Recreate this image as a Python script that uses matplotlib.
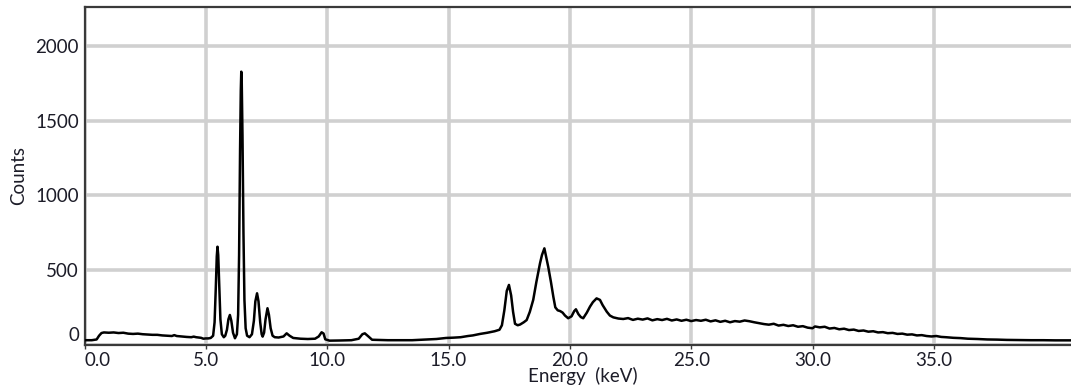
import matplotlib
matplotlib.use("Agg")
import matplotlib.pyplot as plt
import matplotlib.transforms as mtransforms

# ---- data ----
energy_kev = [
    0.0, 0.3, 0.5, 0.6, 0.7, 0.8, 1.0, 1.2, 1.4, 1.6, 1.8, 2.0, 2.2, 2.4, 2.6, 2.8,
    3.0, 3.2, 3.4, 3.6, 3.7, 3.8, 4.0, 4.2, 4.4, 4.5, 4.6, 4.8, 4.9, 5.0, 5.1, 5.2,
    5.3, 5.36, 5.41, 5.45, 5.48, 5.51, 5.55, 5.60, 5.66, 5.74,
    5.80, 5.87, 5.93, 5.99, 6.05, 6.12, 6.2,
    6.28, 6.33, 6.37, 6.41, 6.44, 6.46, 6.48, 6.51, 6.55, 6.59, 6.64, 6.70, 6.8,
    6.9, 6.98, 7.04, 7.11, 7.17, 7.24, 7.30, 7.34,
    7.40, 7.46, 7.54, 7.60, 7.67, 7.75, 7.84,
    8.0, 8.2, 8.33, 8.45, 8.6, 8.9, 9.2, 9.5, 9.65, 9.77, 9.85, 9.92, 10.1,
    10.5, 11.0, 11.3, 11.45, 11.55, 11.7, 11.85, 12.5, 13.0, 13.5, 14.0, 14.5,
    14.9, 15.2, 15.5, 15.8, 16.0, 16.3, 16.6, 16.9, 17.1,
    17.2, 17.3, 17.4, 17.49, 17.58, 17.66, 17.74, 17.85, 17.95, 18.1, 18.22,
    18.35, 18.49, 18.62, 18.77, 18.85, 18.95, 19.02, 19.11, 19.22, 19.32, 19.4,
    19.5, 19.6, 19.7, 19.8, 19.93, 20.07, 20.18, 20.25, 20.35, 20.45, 20.55,
    20.7, 20.83, 20.95, 21.1, 21.24, 21.35, 21.52, 21.65, 21.79, 22.0,
    22.2, 22.4, 22.6, 22.8, 23.0, 23.2, 23.4, 23.6, 23.8, 24.0, 24.2, 24.4,
    24.6, 24.8, 25.0, 25.2, 25.4, 25.6, 25.8, 26.0, 26.2, 26.4, 26.6, 26.8,
    27.0, 27.2, 27.4, 27.6, 27.8, 28.0, 28.2, 28.4, 28.6, 28.8, 29.0, 29.2,
    29.4, 29.6, 29.8, 30.0, 30.1, 30.3, 30.5, 30.7, 30.9, 31.1, 31.3, 31.5,
    31.7, 31.9, 32.1, 32.3, 32.5, 32.7, 32.9, 33.1, 33.3, 33.5, 33.7, 33.9,
    34.1, 34.3, 34.5, 34.7, 34.9, 35.1, 35.3, 35.5, 35.8, 36.1, 36.4, 36.8,
    37.2, 37.6, 38.0, 38.5, 39.0, 39.5, 40.0, 40.65,
]
counts = [
    30, 30, 35, 60, 78, 82, 80, 82, 78, 80, 74, 72, 74, 70, 68, 66,
    66, 62, 60, 58, 64, 58, 55, 52, 50, 54, 50, 46, 40, 42, 42, 45,
    60, 150, 380, 590, 656, 600, 400, 170, 70, 50,
    60, 100, 170, 199, 160, 80, 43,
    70, 200, 600, 1300, 1700, 1828, 1750, 1400, 750, 300, 110, 60, 50,
    70, 160, 290, 344, 290, 150, 70, 54,
    80, 170, 244, 200, 110, 60, 50,
    48, 55, 76, 60, 45, 40, 38, 40, 55, 83, 75, 36, 27,
    28, 30, 40, 70, 76, 55, 33, 30, 30, 30, 34, 38,
    45, 47, 50, 58, 62, 72, 80, 90, 100,
    130, 230, 360, 400, 330, 220, 140, 130, 135, 150, 165,
    220, 300, 420, 545, 600, 645, 590, 520, 420, 320, 250,
    230, 225, 215, 195, 177, 190, 225, 237, 205, 185, 177,
    215, 255, 285, 310, 300, 265, 221, 195, 183, 175,
    172, 178, 166, 174, 168, 176, 163, 171, 165, 173, 162, 169,
    160, 167, 158, 165, 160, 167, 156, 163, 153, 160, 150, 158,
    154, 162, 157, 150, 144, 138, 134, 140, 128, 133, 125, 130,
    120, 124, 114, 110, 122, 116, 120, 108, 112, 103, 107, 98,
    101, 92, 95, 87, 90, 82, 84, 77, 79, 72, 74, 67,
    69, 62, 64, 58, 55, 58, 52, 50, 46, 44, 40, 38,
    35, 34, 32, 31, 30, 30, 29, 29,
]

x_ticks = [0, 5, 10, 15, 20, 25, 30, 35]
x_tick_labels = ["0.0", "5.0", "10.0", "15.0", "20.0", "25.0", "30.0", "35.0"]
y_ticks = [0, 500, 1000, 1500, 2000]
y_tick_labels = ["0", "500", "1000", "1500", "2000"]

TEXT = "#1c1c28"
FS = 13.5
plt.rcParams["font.family"] = ["Lato", "DejaVu Sans"]

fig = plt.figure(figsize=(10.71, 3.90), dpi=100)
ax = fig.add_axes([0.0789, 0.1162, 0.9211, 0.8666])

ax.plot(energy_kev, counts, color="black", lw=1.8, zorder=3)

ax.set_xlim(0, 40.65)
ax.set_ylim(0, 2263)

ax.set_xticks(x_ticks)
ax.set_xticklabels(x_tick_labels)
ax.set_yticks(y_ticks)
ax.set_yticklabels(y_tick_labels)

ax.grid(True, color="#d0d0d0", lw=2.6, zorder=0)
ax.set_axisbelow(True)

for side in ("top", "left", "bottom"):
    ax.spines[side].set_color("#3a3a3a")
    ax.spines[side].set_linewidth(1.6)
ax.spines["right"].set_visible(False)

ax.tick_params(axis="x", length=3, width=1, color="#3a3a3a", pad=2,
               labelsize=FS, labelcolor=TEXT)
ax.tick_params(axis="y", length=0, pad=4, labelsize=FS, labelcolor=TEXT)

# first labels nudged inside like the reference software does
xl = ax.get_xticklabels()
xl[0].set_ha("left")
yl = ax.get_yticklabels()
yl[0].set_transform(yl[0].get_transform() +
                    mtransforms.ScaledTranslation(0, 8 / 72, fig.dpi_scale_trans))

ax.set_xlabel("Energy  (keV)", fontsize=FS, color=TEXT)
ax.xaxis.label.set_va("center")
ax.xaxis.set_label_coords(0.505, -0.094)
ax.set_ylabel("Counts", fontsize=FS, color=TEXT, labelpad=6)

fig.savefig("out.png", dpi=100)
